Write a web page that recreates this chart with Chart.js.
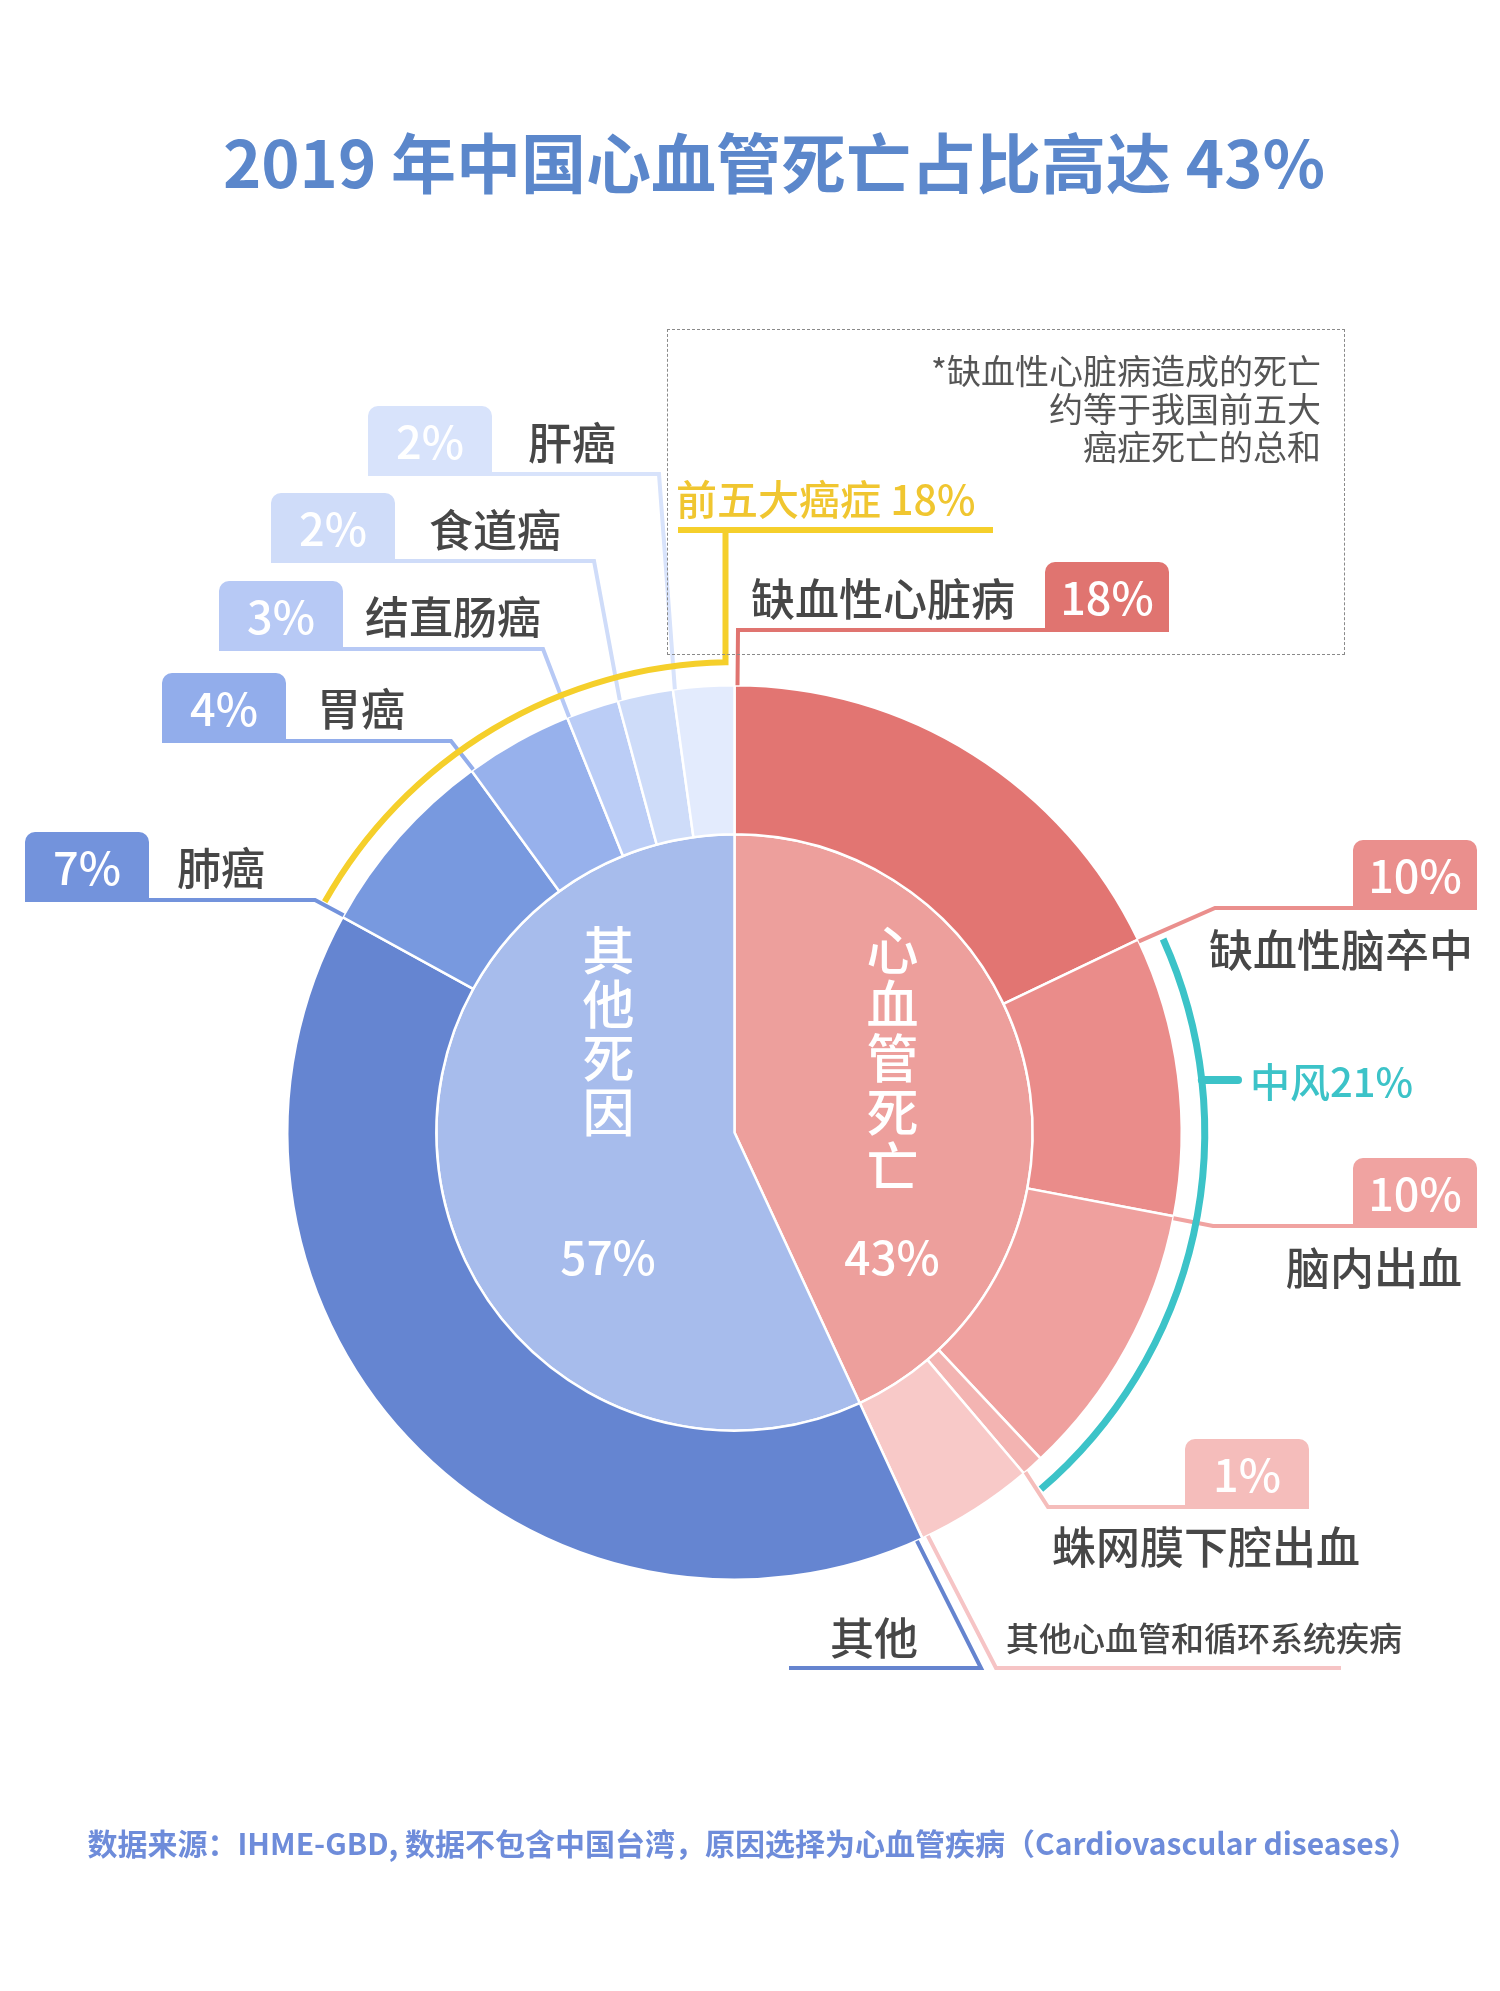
<!DOCTYPE html>
<html lang="zh-CN">
<head>
<meta charset="UTF-8" />
<title>2019 年中国心血管死亡占比高达 43%</title>
<script src="https://cdn.jsdelivr.net/npm/chart.js"></script>
<style>
    * { box-sizing: border-box; margin: 0; padding: 0; }
    body {
        width: 1500px;
        height: 1991px;
        position: relative;
        overflow: hidden;
        background: #fff;
        font-family: "Noto Sans CJK SC", "Noto Sans", sans-serif;
        color: #474747;
    }
    #pie { position: absolute; left: 0; top: 0; }
    .t {
        position: absolute;
        white-space: nowrap;
        line-height: 1;
        font-weight: 500;
        transform: translateY(-50%);
    }
    .box {
        position: absolute;
        width: 124px;
        height: 70px;
        border-radius: 10px 10px 0 0;
        color: #fff;
        font-size: 45px;
        font-weight: 500;
        line-height: 1;
        display: flex;
        align-items: center;
        justify-content: center;
        padding-bottom: 4px;
    }
    .vert {
        position: absolute;
        writing-mode: vertical-rl;
        text-orientation: upright;
        line-height: 1;
        font-size: 52px;
        font-weight: 500;
        letter-spacing: 2px;
        color: #fff;
    }
    #title {
        position: absolute;
        left: 774px;
        top: 160px;
        transform: translate(-50%, -50%);
        font-size: 65px;
        font-weight: 700;
        color: #5b87cb;
        white-space: nowrap;
        line-height: 1;
    }
    #note {
        position: absolute;
        left: 667px;
        top: 329px;
        width: 678px;
        height: 326px;
        border: 1.5px dashed #8a8a8a;
    }
    #noteText {
        position: absolute;
        right: 179px;
        top: 351px;
        text-align: right;
        font-size: 34px;
        line-height: 38px;
        color: #555;
    }
    #source {
        position: absolute;
        left: 753px;
        top: 1842px;
        transform: translate(-50%, -50%);
        font-size: 30px;
        font-weight: 700;
        color: #6e8cda;
        white-space: nowrap;
        line-height: 1;
    }
</style>
</head>
<body>

<canvas id="pie" width="1500" height="1991"></canvas>
<div id="title">2019 年中国心血管死亡占比高达 43%</div>
<div id="note"></div>
<div id="noteText">*缺血性心脏病造成的死亡<br>约等于我国前五大<br>癌症死亡的总和</div>
<div id="source">数据来源：IHME-GBD, 数据不包含中国台湾，原因选择为心血管疾病（Cardiovascular diseases）</div>

<script>
    // outer ring, clockwise from 12 o'clock
    const outerNames = ['缺血性心脏病', '缺血性脑卒中', '脑内出血', '蛛网膜下腔出血', '其他心血管和循环系统疾病',
                        '其他', '肺癌', '胃癌', '结直肠癌', '食道癌', '肝癌'];
    const outerValues = [17.9, 10.1, 10.0, 0.8, 4.3, 39.9, 7.0, 3.9, 1.9, 2.0, 2.2];
    const outerPct = ['18%', '10%', '10%', '1%', '', '', '7%', '4%', '3%', '2%', '2%'];

    // inner pie
    const innerNames = ['心血管死亡', '其他死因'];
    const innerValues = [43.1, 56.9];
    const innerPct = ['43%', '57%'];

    // grouped brackets
    const cancerGroup = { label: '前五大癌症 18%', from: 6, to: 10 };
    const strokeGroup = { label: '中风21%', from: 1, to: 3 };

    const outerColors = ['#e27572', '#ea8c8a', '#efa09e', '#f3b4b2', '#f8c9c8',
                         '#6585d1', '#7899df', '#97b1ec', '#bbcdf6', '#cedcf9', '#e3ebfd'];
    const boxColors = ['#e07470', '#ea8f8d', '#f0a3a1', '#f5bdbb', '#f6c4c5',
                       '#6584cf', '#7393dc', '#92adeb', '#b7c9f5', '#cfdcf9', '#d8e3fb'];
    const innerColors = ['#ed9f9c', '#a7bcec'];

    // callout layout: slice index, which slice edge the leader starts at, elbow, line end, box, text
    const callouts = [
        { i: 0,  edge: 'start', inset: 3, elbow: [738, 630],  end: 1169, box: 1045, text: [751, 597, 'left', 44] },
        { i: 1,  edge: 'start', inset: 2, elbow: [1215, 908], end: 1477, box: 1353, text: [1473, 948, 'right', 44] },
        { i: 2,  edge: 'start', inset: 2, elbow: [1213, 1226], end: 1477, box: 1353, text: [1462, 1266, 'right', 44] },
        { i: 3,  edge: 'end',   inset: 2, elbow: [1048, 1507], end: 1309, box: 1185, text: [1052, 1545, 'left', 44] },
        { i: 4,  edge: 'end',   inset: 6, elbow: [996, 1668], end: 1341, box: null, text: [1006, 1637, 'left', 33] },
        { i: 5,  edge: 'start', inset: 6, elbow: [981, 1668], end: 789,  box: null, text: [830, 1636, 'left', 44] },
        { i: 6,  edge: 'start', inset: 2, elbow: [315, 900],  end: 25,   box: 25,   text: [177, 866, 'left', 44] },
        { i: 7,  edge: 'start', inset: 2, elbow: [451, 741],  end: 162,  box: 162,  text: [317, 707, 'left', 44] },
        { i: 8,  edge: 'start', inset: 2, elbow: [543, 649],  end: 219,  box: 219,  text: [365, 615, 'left', 44] },
        { i: 9,  edge: 'start', inset: 2, elbow: [594, 561],  end: 271,  box: 271,  text: [429, 528, 'left', 44] },
        { i: 10, edge: 'start', inset: 2, elbow: [659, 474],  end: 368,  box: 368,  text: [528, 441, 'left', 44] }
    ];

    // html labels
    function addText(str, x, y, align, size, color) {
        const d = document.createElement('div');
        d.className = 't';
        d.textContent = str;
        d.style.fontSize = size + 'px';
        d.style.top = y + 'px';
        if (align === 'right') d.style.right = (1500 - x) + 'px';
        else d.style.left = x + 'px';
        if (color) d.style.color = color;
        document.body.appendChild(d);
        return d;
    }

    callouts.forEach(c => {
        const [tx, ty, align, size] = c.text;
        addText(outerNames[c.i], tx, ty, align, size);
        if (c.box !== null) {
            const b = document.createElement('div');
            b.className = 'box';
            b.textContent = outerPct[c.i];
            b.style.left = c.box + 'px';
            b.style.top = (c.elbow[1] + 2 - 70) + 'px';
            b.style.background = boxColors[c.i];
            document.body.appendChild(b);
        }
    });

    addText(cancerGroup.label, 676, 497, 'left', 41, '#f0c630');
    addText(strokeGroup.label, 1250, 1080, 'left', 40, '#3cc3c8');

    // inner pie labels
    [[innerNames[1], innerPct[1], 608], [innerNames[0], innerPct[0], 892]].forEach(([name, pct, cx]) => {
        const v = document.createElement('div');
        v.className = 'vert';
        v.textContent = name;
        v.style.left = (cx - 26) + 'px';
        v.style.top = '924px';
        document.body.appendChild(v);
        const p = addText(pct, cx, 1255, 'left', 46, '#fff');
        p.style.transform = 'translate(-50%, -50%)';
    });

    const calloutPlugin = {
        id: 'callouts',
        afterDatasetsDraw(chart) {
            const ctx = chart.ctx;
            const arcs = chart.getDatasetMeta(0).data;
            const p = k => arcs[k].getProps(['x', 'y', 'startAngle', 'endAngle', 'outerRadius'], true);
            ctx.save();
            ctx.lineJoin = 'miter';

            // leader lines
            callouts.forEach(c => {
                const a = p(c.i);
                const ang = c.edge === 'start' ? a.startAngle + c.inset / a.outerRadius
                                               : a.endAngle - c.inset / a.outerRadius;
                ctx.beginPath();
                ctx.moveTo(a.x + a.outerRadius * Math.cos(ang), a.y + a.outerRadius * Math.sin(ang));
                ctx.lineTo(c.elbow[0], c.elbow[1]);
                ctx.lineTo(c.end, c.elbow[1]);
                ctx.strokeStyle = boxColors[c.i];
                ctx.lineWidth = 4;
                ctx.stroke();
            });

            // yellow bracket over the five cancers
            const first = p(cancerGroup.from), last = p(cancerGroup.to);
            const r = first.outerRadius + 23;
            const a1 = last.endAngle - Math.asin(9 / r);
            ctx.beginPath();
            ctx.arc(first.x, first.y, r, first.startAngle + 0.01, a1);
            ctx.lineTo(first.x + r * Math.cos(a1), 530);
            ctx.moveTo(678, 530);
            ctx.lineTo(993, 530);
            ctx.strokeStyle = '#f5cf2b';
            ctx.lineWidth = 6;
            ctx.stroke();

            // teal bracket over stroke slices
            const s0 = p(strokeGroup.from), s1 = p(strokeGroup.to);
            const rt = s0.outerRadius + 23;
            ctx.beginPath();
            ctx.arc(s0.x, s0.y, rt, s0.startAngle + 0.022, s1.endAngle - 0.006);
            ctx.strokeStyle = '#3cc3c8';
            ctx.lineWidth = 7;
            ctx.stroke();
            const ty = 1080;
            ctx.beginPath();
            ctx.moveTo(s0.x + Math.sqrt(rt * rt - (ty - s0.y) * (ty - s0.y)), ty);
            ctx.lineTo(1238, ty);
            ctx.lineCap = 'round';
            ctx.lineWidth = 8;
            ctx.stroke();
            ctx.restore();
        }
    };

    new Chart(document.getElementById('pie'), {
        type: 'doughnut',
        data: {
            labels: outerNames,
            datasets: [
                {
                    data: outerValues,
                    backgroundColor: outerColors,
                    borderColor: '#fff',
                    borderWidth: 2.5,
                    hoverOffset: 0,
                    weight: 149
                },
                {
                    data: innerValues,
                    backgroundColor: innerColors,
                    borderColor: '#fff',
                    borderWidth: 2.5,
                    hoverOffset: 0,
                    weight: 298
                }
            ]
        },
        options: {
            responsive: false,
            animation: false,
            cutout: 0,
            events: [],
            layout: { padding: { left: 286, right: 317, top: 684, bottom: 410 } },
            plugins: {
                legend: { display: false },
                tooltip: { enabled: false }
            }
        },
        plugins: [calloutPlugin]
    });
</script>

</body>
</html>
